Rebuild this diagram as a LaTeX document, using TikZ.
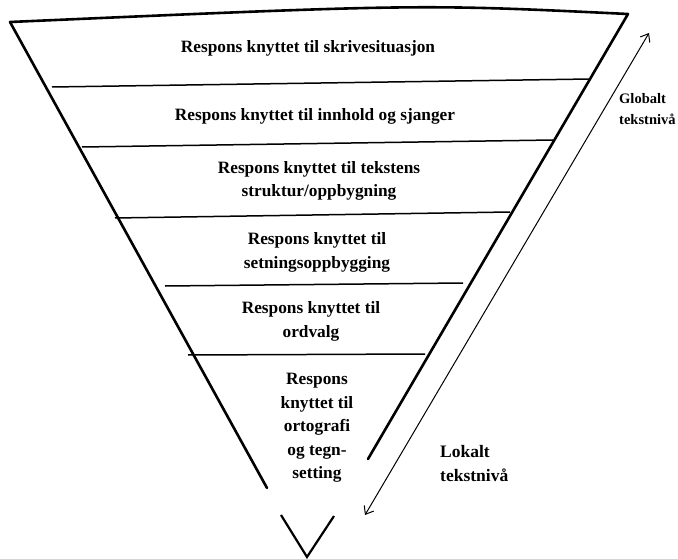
\documentclass[tikz,border=0pt]{standalone}
\usepackage{fontspec}
\setmainfont{Liberation Serif}
\usetikzlibrary{arrows.meta}
\begin{document}
\begin{tikzpicture}[x=1pt,y=-1pt,
  edge/.style={line width=2.6pt, line cap=round, line join=round},
  divider/.style={line width=1.5pt},
  vtip/.style={line width=2.2pt},
  layertext/.style={font=\bfseries\fontsize{17.3}{23.5}\selectfont, align=center, inner sep=0pt},
  sidetext/.style={font=\bfseries\fontsize{17.5}{24}\selectfont, align=left, inner sep=0pt, anchor=west},
  smalltext/.style={font=\bfseries\fontsize{14.5}{21}\selectfont, align=left, inner sep=0pt, anchor=west},
  levelarrow/.style={line width=1pt, {Straight Barb[length=7pt,width=11pt]}-{Straight Barb[length=7pt,width=11pt]}}]
\useasboundingbox (0,0) rectangle (678,559);
% funnel outline
\coordinate (TL) at (10,22);
\coordinate (TR) at (628,14);
\coordinate (BL) at (267,488);
\coordinate (BR) at (368,459);
\draw[edge] (BL) -- (TL) .. controls (420,4) .. (TR) -- (BR);
% dividers
\draw[divider] (52,87) -- (590,79);
\draw[divider] (82,147) -- (553,140);
\draw[divider] (115,218) -- (510,212);
\draw[divider] (165,286) -- (463,283);
\draw[divider] (188,355) -- (425,354);
% bottom tip
\draw[vtip] (281,515) -- (307,557) -- (334,516);
% layer texts
\node[layertext] (l1) at (308,48) {Respons knyttet til skrivesituasjon};
\node[layertext] (l2) at (315,116) {Respons knyttet til innhold og sjanger};
\node[layertext] (l3) at (319,181) {Respons knyttet til tekstens\\struktur/oppbygning};
\node[layertext] (l4) at (317,252.5) {Respons knyttet til\\setningsoppbygging};
\node[layertext] (l5) at (311,321.5) {Respons knyttet til\\ordvalg};
\node[layertext] (l6) at (317,428) {Respons\\knyttet til\\ortografi\\og tegn-\\setting};
% level arrow
\coordinate (Atop) at (649,33);
\coordinate (Abot) at (365,515);
\draw[levelarrow] (Abot) -- (Atop);
\node[smalltext] (glob) at (619,109) {Globalt\\tekstnivå};
\node[sidetext] (lok) at (440,464) {Lokalt\\tekstnivå};
\end{tikzpicture}
\end{document}
